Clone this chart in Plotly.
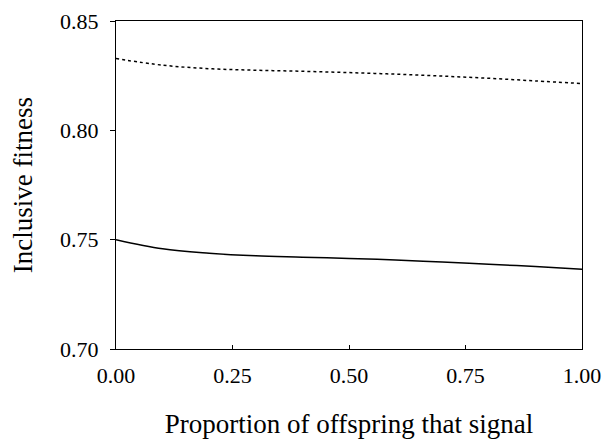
import plotly.graph_objects as go

x_vals = [0.0, 0.1, 0.2, 0.3, 0.4, 0.5, 0.6, 0.7, 0.8, 0.9, 1.0]
solid_vals = [0.7500, 0.7458, 0.7438, 0.7426, 0.7420, 0.7414, 0.7407, 0.7398, 0.7388, 0.7377, 0.7365]
dotted_vals = [0.8328, 0.8298, 0.8282, 0.8275, 0.8270, 0.8264, 0.8257, 0.8248, 0.8238, 0.8226, 0.8214]

x_ticks = [0.0, 0.25, 0.5, 0.75, 1.0]
x_tick_labels = ["0.00", "0.25", "0.50", "0.75", "1.00"]
y_ticks = [0.70, 0.75, 0.80, 0.85]
y_tick_labels = ["0.70", "0.75", "0.80", "0.85"]
y_title = "Inclusive fitness"
x_title = "Proportion of offspring that signal"

FONT = "Liberation Serif, Times New Roman, serif"

fig = go.Figure()
fig.add_trace(go.Scatter(x=x_vals, y=dotted_vals, mode="lines", line=dict(color="black", width=1.5, dash="dot", shape="spline"), showlegend=False))
fig.add_trace(go.Scatter(x=x_vals, y=solid_vals, mode="lines", line=dict(color="black", width=1.5, shape="spline"), showlegend=False))

fig.update_layout(
    width=602, height=444,
    margin=dict(l=116, r=20, t=21, b=95),
    paper_bgcolor="white", plot_bgcolor="white",
    font=dict(family=FONT, color="black", size=22),
    showlegend=False,
)
fig.update_xaxes(
    range=[0, 1], tickvals=x_ticks, ticktext=x_tick_labels, automargin=False,
    showgrid=False, zeroline=False, showline=True, linecolor="black", linewidth=1,
    mirror=True, ticks="inside", ticklen=4, tickcolor="black", ticklabelstandoff=7,
    tickfont=dict(size=22, family=FONT),
    title=dict(text=x_title, font=dict(size=27, family=FONT), standoff=26),
)
fig.update_yaxes(
    range=[0.70, 0.85], tickvals=y_ticks, ticktext=y_tick_labels, automargin=False,
    showgrid=False, zeroline=False, showline=True, linecolor="black", linewidth=1,
    mirror=True, ticks="outside", ticklen=5, tickcolor="black", ticklabelstandoff=7,
    tickfont=dict(size=22, family=FONT),
)
fig.add_annotation(
    text=y_title, xref="paper", yref="paper", x=-0.199, y=0.5,
    xanchor="center", yanchor="middle", textangle=-90, showarrow=False,
    font=dict(size=27, family=FONT, color="black"),
)

fig.write_html(
    "out.html",
    config={"displayModeBar": False},
    post_script="document.body.style.margin='0';document.body.style.overflow='hidden';",
)
